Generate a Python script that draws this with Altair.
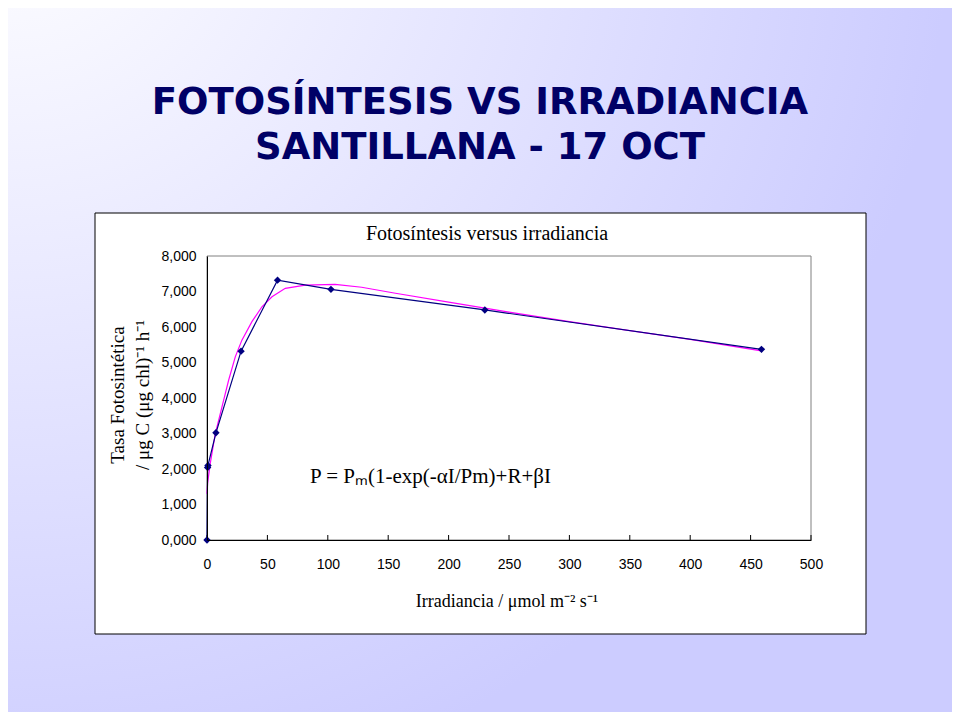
import altair as alt
import pandas as pd

# ---- data ----
irr_obs = [0, 0.5, 0.8, 7.4, 28.2, 58.4, 102.6, 230, 459]
p_obs = [0.0, 2.04, 2.10, 3.02, 5.32, 7.32, 7.06, 6.48, 5.37]

irr_fit = [0, 0.5, 2.7, 6.9, 12.4, 17.9, 23.4, 28.9, 37.2, 45.5, 53.8, 64.8,
           81.3, 106, 128, 156, 200, 250, 300, 350, 400, 459]
p_fit = [1.30, 1.60, 2.16, 3.00, 3.75, 4.50, 5.16, 5.63, 6.15, 6.57, 6.85, 7.09,
         7.18, 7.20, 7.12, 6.95, 6.70, 6.42, 6.15, 5.90, 5.65, 5.33]

x_ticks = [0, 50, 100, 150, 200, 250, 300, 350, 400, 450, 500]
y_ticks = [0, 1, 2, 3, 4, 5, 6, 7, 8]

slide_title_1 = "FOTOSÍNTESIS VS IRRADIANCIA"
slide_title_2 = "SANTILLANA - 17 OCT"
chart_title = "Fotosíntesis versus irradiancia"
equation = "P = Pₘ(1-exp(-αI/Pm)+R+βI"
x_title = "Irradiancia / μmol m⁻² s⁻¹"
y_title_1 = "Tasa Fotosintética"
y_title_2 = "/ μg C (μg chl)⁻¹ h⁻¹"

obs = pd.DataFrame({"I": irr_obs, "P": p_obs, "o": list(range(len(irr_obs)))})
fit = pd.DataFrame({"I": irr_fit, "P": p_fit, "o": list(range(len(irr_fit)))})
ticks = pd.DataFrame({"I": x_ticks})

# ---- layout ----
W, H = 604, 284
PAD_L, PAD_T = 199, 248
TOTAL_W, TOTAL_H = 944, 704

axis_style = dict(zindex=2, grid=False, ticks=False, domainColor="black", domainWidth=1,
                  labelFont="Liberation Sans", labelFontSize=14, labelColor="black",
                  labelFlush=False, labelOverlap=False, title="")
xscale = alt.Scale(domain=[0, 500], nice=False, zero=False)
yscale = alt.Scale(domain=[0, 8], nice=False)
xaxis = alt.Axis(values=x_ticks, labelPadding=17, **axis_style)
yaxis = alt.Axis(values=y_ticks, labelPadding=11,
                 labelExpr="replace(format(datum.value, '.3f'), '.', ',')", **axis_style)

one = alt.Data(values=[{"a": 1}])

bg = alt.Chart(one).mark_rect(
    fill={"gradient": "radial", "x1": 0, "y1": 0, "r1": 0, "x2": 0, "y2": 0, "r2": 1,
          "stops": [{"offset": 0, "color": "#ffffff"}, {"offset": 1, "color": "#ccccff"}]}
).encode(x=alt.value(-PAD_L), x2=alt.value(TOTAL_W - PAD_L),
         y=alt.value(-PAD_T), y2=alt.value(TOTAL_H - PAD_T))

box = alt.Chart(one).mark_rect(fill="white", stroke="black", strokeWidth=1).encode(
    x=alt.value(-112), x2=alt.value(659), y=alt.value(-43), y2=alt.value(378))

frame = alt.Chart(one).mark_rect(fill="transparent", stroke="#808080", strokeWidth=1).encode(
    x=alt.value(0), x2=alt.value(W), y=alt.value(0), y2=alt.value(H))


def txt(s, x, y, size, font, weight="normal", color="black", align="center", angle=0):
    return alt.Chart(one).mark_text(
        text=s, font=font, fontSize=size, fontWeight=weight, color=color,
        align=align, baseline="middle", angle=angle
    ).encode(x=alt.value(x), y=alt.value(y))


t1 = txt(slide_title_1, 273, -153, 37, "DejaVu Sans", "bold", "#000066")
t2 = txt(slide_title_2, 273, -108, 37, "DejaVu Sans", "bold", "#000066")
t3 = txt(chart_title, 280, -22, 20, "Liberation Serif")
teq = txt(equation, 103, 221, 21, "Liberation Serif", align="left")
tx = txt(x_title, 300, 346, 18, "Liberation Serif")
ty1 = txt(y_title_1, -89, 139, 19, "Liberation Serif", angle=270)
ty2 = txt(y_title_2, -64, 139, 19, "Liberation Serif", angle=270)

tick_rules = alt.Chart(ticks).mark_rule(color="black", strokeWidth=1).encode(
    x=alt.X("I:Q", scale=xscale, axis=xaxis), y=alt.value(H), y2=alt.value(H - 5))

fit_line = alt.Chart(fit).mark_line(color="#ff00ff", strokeWidth=1.2).encode(
    x=alt.X("I:Q", scale=xscale, axis=xaxis),
    y=alt.Y("P:Q", scale=yscale, axis=yaxis),
    order="o:Q")

obs_line = alt.Chart(obs).mark_line(color="#000080", strokeWidth=1.2).encode(
    x=alt.X("I:Q", scale=xscale, axis=xaxis),
    y=alt.Y("P:Q", scale=yscale, axis=yaxis),
    order="o:Q")

obs_pts = alt.Chart(obs).mark_point(shape="diamond", filled=True, color="#000080",
                                    size=55, opacity=1).encode(
    x=alt.X("I:Q", scale=xscale, axis=xaxis),
    y=alt.Y("P:Q", scale=yscale, axis=yaxis))

chart = alt.layer(
    bg, box, frame, t1, t2, t3, teq, tx, ty1, ty2,
    tick_rules, fit_line, obs_line, obs_pts
).properties(
    width=W, height=H,
    background="white",
    autosize=alt.AutoSizeParams(type="none"),
    padding={"left": PAD_L, "top": PAD_T, "right": TOTAL_W - PAD_L - W,
             "bottom": TOTAL_H - PAD_T - H},
).configure_view(strokeWidth=0)

chart.save("out.html", embed_options={"renderer": "svg", "actions": False})
